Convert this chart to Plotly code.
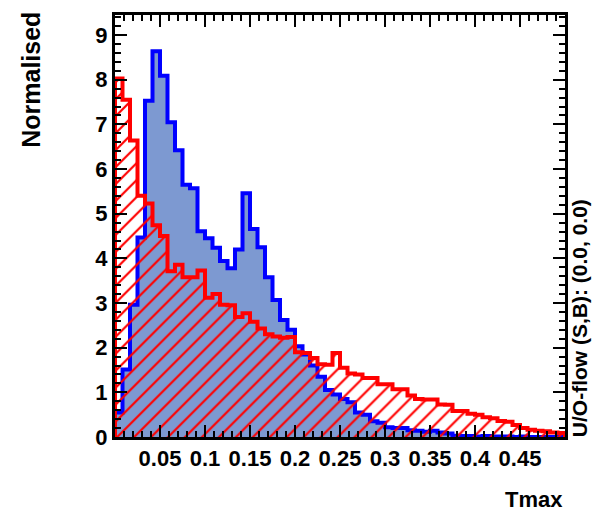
import numpy as np
import plotly.graph_objects as go

# Tmax distribution, 60 equal bins between 0 and 0.5, normalised to unit area
x_min, x_max, n_bins = 0.0, 0.5, 60

signal = [
    0.55, 1.51, 2.96, 4.47, 7.53, 8.64, 8.09, 7.05, 6.42, 5.65,
    5.57, 4.61, 4.45, 4.24, 3.94, 3.78, 4.20, 5.46, 4.66, 4.25,
    3.58, 3.07, 2.62, 2.40, 2.03, 1.85, 1.60, 1.35, 1.05, 0.95,
    0.85, 0.78, 0.55, 0.50, 0.35, 0.32, 0.22, 0.20, 0.20, 0.15,
    0.14, 0.12, 0.14, 0.10, 0.08, 0.03, 0.02, 0.02, 0.01, 0.02,
    0.01, 0.01, 0.01, 0.00, 0.01, 0.00, 0.00, 0.00, 0.00, 0.00,
]

background = [
    8.03, 7.55, 6.64, 5.40, 5.23, 4.74, 4.50, 3.71, 3.86, 3.58,
    3.58, 3.73, 3.12, 3.20, 2.96, 2.95, 2.69, 2.77, 2.58, 2.43,
    2.30, 2.25, 2.22, 2.24, 1.90, 1.88, 1.77, 1.63, 1.62, 1.88,
    1.55, 1.42, 1.40, 1.32, 1.32, 1.18, 1.18, 1.07, 1.07, 0.93,
    0.85, 0.84, 0.84, 0.73, 0.72, 0.58, 0.58, 0.52, 0.50, 0.44,
    0.42, 0.36, 0.34, 0.27, 0.20, 0.16, 0.14, 0.13, 0.10, 0.09,
]

x_ticks = [0.05, 0.10, 0.15, 0.20, 0.25, 0.30, 0.35, 0.40, 0.45]
x_tick_text = ["0.05", "0.1", "0.15", "0.2", "0.25", "0.3", "0.35", "0.4", "0.45"]
y_ticks = list(range(10))

edges = np.linspace(x_min, x_max, n_bins + 1)


def step_outline(values):
    """Closed step outline of a histogram (hv line shape)."""
    xs = [edges[0]] + list(edges[:-1]) + [edges[-1], edges[-1]]
    ys = [0.0] + list(values) + [values[-1], 0.0]
    return xs, ys


FONT = "Liberation Sans, Arial, Helvetica, sans-serif"

fig = go.Figure()

sx, sy = step_outline(signal)
fig.add_trace(go.Scatter(
    x=sx, y=sy, mode="lines", line_shape="hv",
    line=dict(color="#0000ff", width=4),
    fill="tozeroy", fillcolor="#7d99d1",
    name="Signal", hoverinfo="skip",
))

bx, by = step_outline(background)
fig.add_trace(go.Scatter(
    x=bx, y=by, mode="lines", line_shape="hv",
    line=dict(color="#ff0000", width=4),
    fill="tozeroy", fillcolor="rgba(0,0,0,0)",
    fillpattern=dict(shape="/", fgcolor="#ff0000", fgopacity=1,
                     bgcolor="rgba(0,0,0,0)",
                     size=12, solidity=0.18, fillmode="overlay"),
    name="Background", hoverinfo="skip",
))

axis_common = dict(
    showgrid=False, zeroline=False,
    showline=True, linecolor="black", linewidth=3, mirror="allticks",
    ticks="inside", tickcolor="black", tickwidth=2,
    tickfont=dict(family=FONT, size=22, color="black", weight="bold"),
)

fig.update_xaxes(
    range=[x_min, x_max], tickvals=x_ticks, ticktext=x_tick_text,
    ticklen=12,
    minor=dict(dtick=0.01, tick0=0, ticks="inside", ticklen=6,
               tickwidth=2, tickcolor="black"),
    **axis_common,
)
fig.update_yaxes(
    range=[0, 9.45], tickvals=y_ticks, ticklen=12,
    minor=dict(dtick=0.2, tick0=0, ticks="inside", ticklen=6,
               tickwidth=2, tickcolor="black"),
    **axis_common,
)

fig.add_annotation(
    text="Normalised", textangle=-90, showarrow=False,
    xref="paper", yref="paper", x=-0.187, y=1.012,
    xanchor="center", yanchor="top",
    font=dict(family=FONT, size=25, color="black", weight="bold"),
)
fig.add_annotation(
    text="Tmax", showarrow=False,
    xref="paper", yref="paper", x=1.0, y=-0.148,
    xanchor="right", yanchor="middle",
    font=dict(family=FONT, size=22, color="black", weight="bold"),
)
fig.add_annotation(
    text="U/O-flow (S,B): (0.0, 0.0)", textangle=-90, showarrow=False,
    xref="paper", yref="paper", x=1.0322, y=-0.004,
    xanchor="center", yanchor="bottom",
    font=dict(family=FONT, size=21, color="black", weight="bold"),
)

fig.update_layout(
    width=592, height=515,
    margin=dict(l=115, r=27, t=12, b=78),
    paper_bgcolor="white", plot_bgcolor="white",
    showlegend=False,
)

fig.write_html("out.html")
